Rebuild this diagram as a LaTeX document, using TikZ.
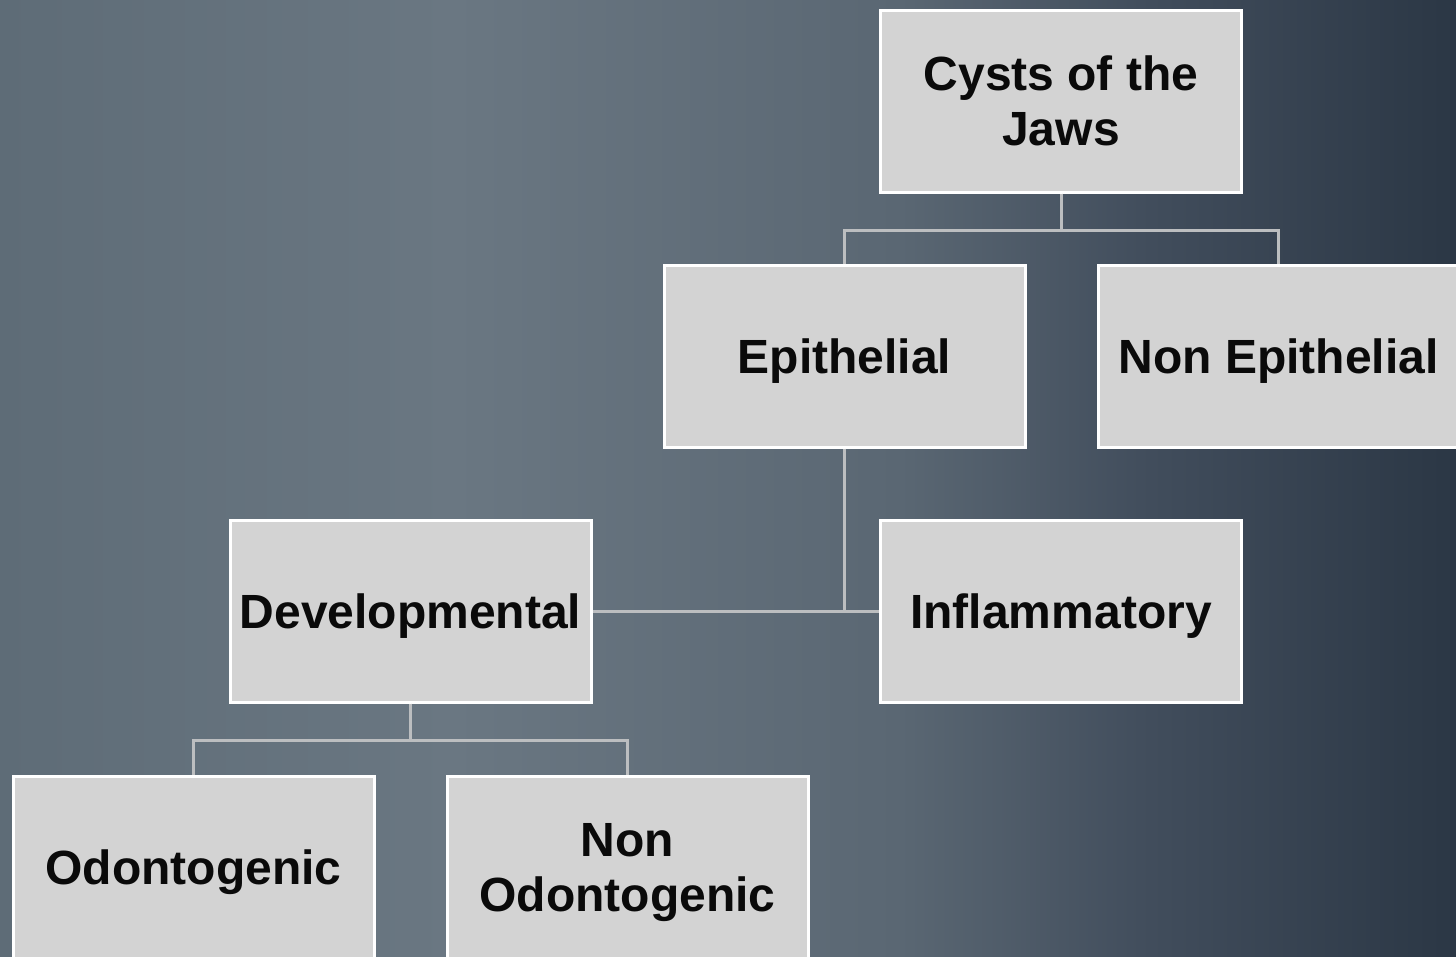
\documentclass[tikz,border=0pt]{standalone}
\usepackage{fontspec}
\setmainfont{Liberation Sans}
\definecolor{bga}{HTML}{5E6C77}
\definecolor{bgb}{HTML}{6A7782}
\definecolor{bgc}{HTML}{5A6773}
\definecolor{bgd}{HTML}{414D5C}
\definecolor{bge}{HTML}{2B3745}
\definecolor{boxfill}{HTML}{D3D3D3}
\definecolor{linkcol}{HTML}{BCBEC0}
\definecolor{textcol}{HTML}{0A0A0A}
\pgfdeclarehorizontalshading{bgshade}{100bp}{color(0bp)=(bga); color(25bp)=(bga); color(40.5bp)=(bgb); color(55.9bp)=(bgc); color(64.5bp)=(bgd); color(75bp)=(bge); color(100bp)=(bge)}
\tikzset{
  catbox/.style={draw=white, line width=3pt, fill=boxfill, minimum width=361pt, minimum height=182pt,
    inner sep=0pt, align=center, text depth=0pt, font=\bfseries\fontsize{48}{55}\selectfont, text=textcol},
  link/.style={draw=linkcol, line width=3pt}
}
\begin{document}
\begin{tikzpicture}[x=1pt,y=-1pt]
\useasboundingbox (0,0) rectangle (1456,956);
\shade[shading=bgshade] (0,0) rectangle (1456,956);
\node[catbox] (cysts) at (1061,101) {Cysts of the\\Jaws};
\node[catbox] (epi) at (844.5,356) {Epithelial};
\node[catbox] (nonepi) at (1278.5,356) {Non Epithelial};
\node[catbox] (dev) at (410.5,611) {Developmental};
\node[catbox] (infl) at (1061,611) {Inflammatory};
\node[catbox] (odo) at (193.5,867) {Odontogenic};
\node[catbox] (nonodo) at (627.5,867) {Non\\Odontogenic};
\draw[link] (cysts.south) -- ++(0,37) -| (epi.north);
\draw[link] (cysts.south) -- ++(0,37) -| (nonepi.north);
\draw[link] (dev.east) -- (infl.west);
\draw[link] (epi.south) -- (epi.south |- dev.east);
\draw[link] (dev.south) -- ++(0,37) -| (odo.north);
\draw[link] (dev.south) -- ++(0,37) -| (nonodo.north);
\end{tikzpicture}
\end{document}
